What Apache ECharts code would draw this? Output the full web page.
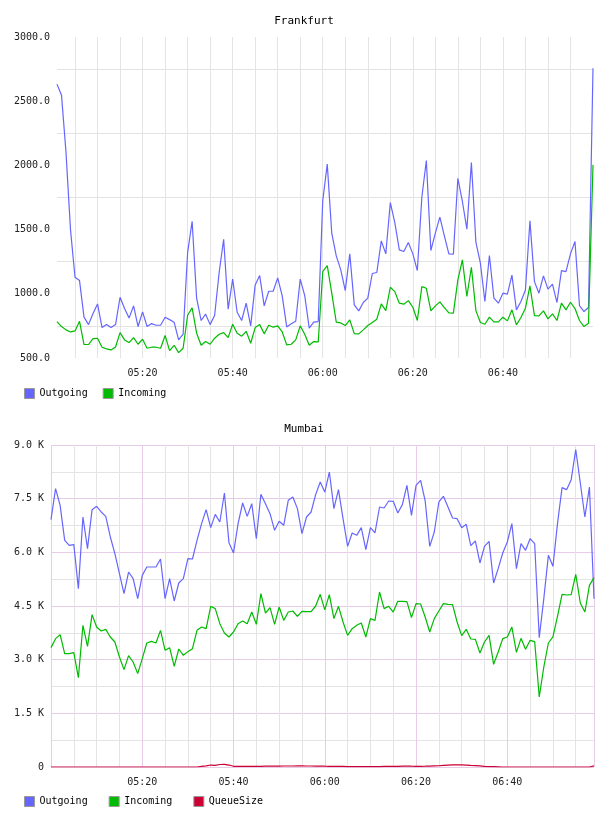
<!DOCTYPE html>
<html>
<head>
<meta charset="utf-8">
<title>Frankfurt / Mumbai</title>
<script src="https://cdn.jsdelivr.net/npm/echarts@6/dist/echarts.min.js"></script>
<style>
  html, body { margin: 0; padding: 0; background: #fff; }
  #chart { width: 608px; height: 816px; }
</style>
</head>
<body>
<div id="chart"></div>
<script>
// 数据：每分钟一个点
var frankStart = '05:01'
var mumStart = '05:00'

var frankOut = [
  2633, 2547, 2100, 1498, 1129, 1103, 818, 760, 846, 921,
  737, 760, 737, 760, 973, 885, 812, 906, 745, 859,
  745, 768, 755, 755, 818, 799, 779, 641, 685, 1321,
  1565, 966, 792, 841, 760, 833, 1166, 1425, 880, 1114,
  856, 792, 927, 750, 1069, 1142, 906, 1020, 1020, 1124,
  984, 742, 766, 786, 1114, 986, 732, 779, 784, 1725,
  2010, 1472, 1295, 1186, 1025, 1311, 914, 867, 932, 966,
  1158, 1166, 1412, 1311, 1711, 1555, 1342, 1329, 1399, 1311,
  1181, 1752, 2038, 1337, 1472, 1597, 1451, 1311, 1308, 1900,
  1719, 1503, 2023, 1402, 1238, 940, 1298, 966, 927, 1005,
  997, 1145, 875, 940, 1030, 1568, 1095, 1005, 1140, 1036,
  1075, 932, 1181, 1173, 1311, 1407, 908, 862, 893, 2757
]
var frankIn = [
  784, 745, 719, 703, 711, 786, 605, 605, 651, 654,
  584, 571, 563, 586, 698, 641, 620, 659, 607, 646,
  576, 584, 584, 576, 675, 558, 599, 542, 576, 833,
  890, 693, 599, 628, 607, 654, 685, 698, 659, 763,
  693, 670, 708, 615, 737, 760, 688, 755, 740, 750,
  703, 602, 607, 641, 750, 685, 599, 628, 625, 1172,
  1220, 1005, 779, 773, 753, 797, 690, 688, 719, 753,
  776, 802, 921, 869, 1051, 1017, 927, 919, 947, 895,
  792, 1056, 1043, 867, 906, 937, 893, 851, 849, 1108,
  1264, 979, 1207, 869, 776, 763, 818, 781, 781, 818,
  789, 875, 758, 815, 888, 1062, 830, 828, 867, 805,
  843, 792, 927, 875, 934, 885, 792, 745, 771, 2004
]

var mumOut = [
  6913, 7780, 7314, 6336, 6196, 6214, 4985, 6988, 6103, 7193,
  7286, 7128, 7006, 6429, 5963, 5404, 4845, 5450, 5264, 4705,
  5357, 5590, 5590, 5590, 5814, 4705, 5264, 4640, 5143, 5264,
  5823, 5814, 6336, 6801, 7193, 6690, 7062, 6848, 7659, 6270,
  5981, 6801, 7379, 7006, 7360, 6382, 7621, 7360, 7081, 6615,
  6867, 6755, 7454, 7547, 7221, 6522, 6988, 7128, 7612, 7966,
  7686, 8245, 7221, 7752, 6941, 6168, 6541, 6475, 6690, 6075,
  6690, 6541, 7267, 7239, 7435, 7426, 7100, 7333, 7873, 7034,
  7873, 8013, 7435, 6168, 6568, 7407, 7565, 7267, 6960, 6941,
  6690, 6783, 6187, 6317, 5702, 6168, 6308, 5143, 5544, 5981,
  6289, 6801, 5544, 6242, 6056, 6382, 6242, 3615, 4705, 5916,
  5609, 6801, 7808, 7752, 8031, 8870, 7938, 6988, 7826, 4705
]
var mumIn = [
  3336, 3587, 3699, 3168, 3168, 3196, 2497, 3960, 3373, 4258,
  3913, 3801, 3848, 3634, 3494, 3075, 2721, 3112, 2935, 2609,
  3028, 3466, 3512, 3466, 3820, 3261, 3336, 2814, 3298, 3121,
  3224, 3308, 3820, 3913, 3867, 4491, 4426, 4006, 3745, 3634,
  3773, 4006, 4081, 4006, 4332, 3988, 4845, 4304, 4453, 3988,
  4472, 4099, 4332, 4360, 4211, 4351, 4342, 4342, 4500, 4826,
  4390, 4817, 4146, 4491, 4053, 3680, 3867, 3960, 4025, 3634,
  4146, 4099, 4891, 4426, 4491, 4332, 4631, 4631, 4621, 4174,
  4565, 4556, 4193, 3773, 4146, 4360, 4565, 4547, 4537, 4053,
  3671, 3848, 3578, 3568, 3186, 3494, 3680, 2870, 3214, 3587,
  3634, 3913, 3205, 3596, 3289, 3540, 3503, 1957, 2795, 3466,
  3634, 4211, 4826, 4808, 4817, 5385, 4584, 4332, 5078, 5292
]
var mumQueue = [
  0, 0, 0, 0, 0, 0, 0, 0, 0, 0,
  0, 0, 0, 0, 0, 0, 0, 0, 0, 0,
  0, 0, 0, 0, 0, 0, 0, 0, 0, 0,
  0, 0, 0, 15, 30, 55, 45, 70, 75, 55,
  20, 15, 15, 18, 18, 20, 20, 22, 22, 25,
  25, 28, 28, 28, 30, 30, 28, 28, 25, 25,
  22, 20, 18, 15, 15, 12, 12, 10, 10, 10,
  10, 12, 12, 15, 15, 18, 20, 25, 25, 22,
  20, 20, 22, 25, 30, 35, 45, 55, 60, 62,
  60, 55, 45, 40, 30, 20, 12, 8, 4, 0,
  0, 0, 0, 0, 0, 0, 0, 0, 0, 0,
  0, 0, 0, 0, 0, 0, 0, 0, 0, 30
]

var frankTicks = [500, 1000, 1500, 2000, 2500, 3000]
var mumTicks = [0, 1500, 3000, 4500, 6000, 7500, 9000]

// 时间标签 hh:mm
function pad(n) { return (n < 10 ? '0' : '') + n }
function makeTimes(start, n) {
  var p = start.split(':')
  var m0 = parseInt(p[0], 10) * 60 + parseInt(p[1], 10)
  var out = []
  for (var i = 0; i < n; i++) {
    var m = m0 + i
    out.push(pad(Math.floor(m / 60)) + ':' + pad(m % 60))
  }
  return out
}
function minuteOf(v) { return parseInt(v.slice(3), 10) }

var frankTimes = makeTimes(frankStart, frankOut.length)
var mumTimes = makeTimes(mumStart, mumOut.length)

var font = 'DejaVu Sans Mono'
var grey = '#e4e4e4'
var pink = '#e6cce6'
var cOut = '#6666ff'
var cIn = '#00bb00'
var cQueue = '#cc0033'

var labelStyle = { fontFamily: font, fontSize: 10, color: '#222' }
var titleStyle = { fontFamily: font, fontSize: 11, fontWeight: 'normal', color: '#000' }
var legendText = { fontFamily: font, fontSize: 10, color: '#000' }

var myChart = echarts.init(document.getElementById('chart'))

var option = {
  animation: false,
  backgroundColor: '#fff',
  title: [
    { text: 'Frankfurt', left: 'center', top: 16, padding: 0, textStyle: titleStyle },
    { text: 'Mumbai', left: 'center', top: 424, padding: 0, textStyle: titleStyle }
  ],
  legend: [
    { data: ['Outgoing', 'Incoming'], left: 24, top: 388, padding: 0, icon: 'rect',
      itemWidth: 10, itemHeight: 10, itemGap: 15,
      itemStyle: { borderColor: '#999', borderWidth: 1 },
      textStyle: legendText },
    { data: ['Outgoing', 'Incoming', 'QueueSize'], left: 24, top: 796, padding: 0, icon: 'rect',
      itemWidth: 10, itemHeight: 10, itemGap: 21,
      itemStyle: { borderColor: '#999', borderWidth: 1 },
      textStyle: legendText }
  ],
  grid: [
    { left: 57, right: 15, top: 37, height: 321 },
    { left: 51, right: 14, top: 445, height: 322 }
  ],
  xAxis: [
    {
      gridIndex: 0, type: 'category', boundaryGap: false, data: frankTimes,
      axisLine: { show: false }, axisTick: { show: false },
      axisLabel: Object.assign({
        margin: 10,
        interval: function (i, v) { return i > 0 && i < frankTimes.length - 1 && minuteOf(v) % 20 === 0 }
      }, labelStyle),
      splitLine: {
        show: true,
        interval: function (i, v) { return i > 0 && i < frankTimes.length - 1 && minuteOf(v) % 5 === 0 },
        lineStyle: { color: grey, width: 1 }
      }
    },
    {
      gridIndex: 1, type: 'category', boundaryGap: false, data: mumTimes,
      axisLine: { show: false }, axisTick: { show: false },
      axisLabel: Object.assign({
        margin: 10,
        interval: function (i, v) { return i > 0 && i < mumTimes.length - 1 && minuteOf(v) % 20 === 0 }
      }, labelStyle),
      splitLine: {
        show: true,
        interval: function (i, v) { return i > 0 && minuteOf(v) % 5 === 0 && minuteOf(v) % 20 !== 0 },
        lineStyle: { color: grey, width: 1 }
      }
    },
    {
      // 粉色竖线（每20分钟 + 边框）
      gridIndex: 1, type: 'category', position: 'top', boundaryGap: false, data: mumTimes,
      axisLine: { show: false }, axisTick: { show: false }, axisLabel: { show: false },
      splitLine: {
        show: true,
        interval: function (i, v) { return i === 0 || i === mumTimes.length - 1 || minuteOf(v) % 20 === 0 },
        lineStyle: { color: pink, width: 1 }
      }
    }
  ],
  yAxis: [
    {
      gridIndex: 0, type: 'value',
      min: frankTicks[0], max: frankTicks[frankTicks.length - 1], interval: frankTicks[1] - frankTicks[0],
      axisLine: { show: false }, axisTick: { show: false },
      axisLabel: Object.assign({ margin: 7, formatter: function (v) { return v.toFixed(1) } }, labelStyle),
      splitLine: { show: false },
      minorTick: { show: false, splitNumber: 2 },
      minorSplitLine: { show: true, lineStyle: { color: grey, width: 1 } }
    },
    {
      gridIndex: 1, type: 'value',
      min: mumTicks[0], max: mumTicks[mumTicks.length - 1], interval: mumTicks[1] - mumTicks[0],
      axisLine: { show: false }, axisTick: { show: false },
      axisLabel: Object.assign({
        margin: 7,
        formatter: function (v) { return v === 0 ? '0' : (v / 1000).toFixed(1) + ' K' }
      }, labelStyle),
      splitLine: { show: true, lineStyle: { color: pink, width: 1 } },
      minorTick: { show: false, splitNumber: 2 },
      minorSplitLine: { show: true, lineStyle: { color: grey, width: 1 } }
    }
  ],
  series: [
    { name: 'Outgoing', type: 'line', xAxisIndex: 0, yAxisIndex: 0, data: frankOut,
      symbol: 'none', color: cOut, lineStyle: { width: 1.2 } },
    { name: 'Incoming', type: 'line', xAxisIndex: 0, yAxisIndex: 0, data: frankIn,
      symbol: 'none', color: cIn, lineStyle: { width: 1.2 } },
    { name: 'Outgoing', type: 'line', xAxisIndex: 1, yAxisIndex: 1, data: mumOut,
      symbol: 'none', color: cOut, lineStyle: { width: 1.2 } },
    { name: 'Incoming', type: 'line', xAxisIndex: 1, yAxisIndex: 1, data: mumIn,
      symbol: 'none', color: cIn, lineStyle: { width: 1.2 } },
    { name: 'QueueSize', type: 'line', xAxisIndex: 1, yAxisIndex: 1, data: mumQueue,
      symbol: 'none', color: cQueue, lineStyle: { width: 1.2 } }
  ]
}

myChart.setOption(option)
</script>
</body>
</html>
